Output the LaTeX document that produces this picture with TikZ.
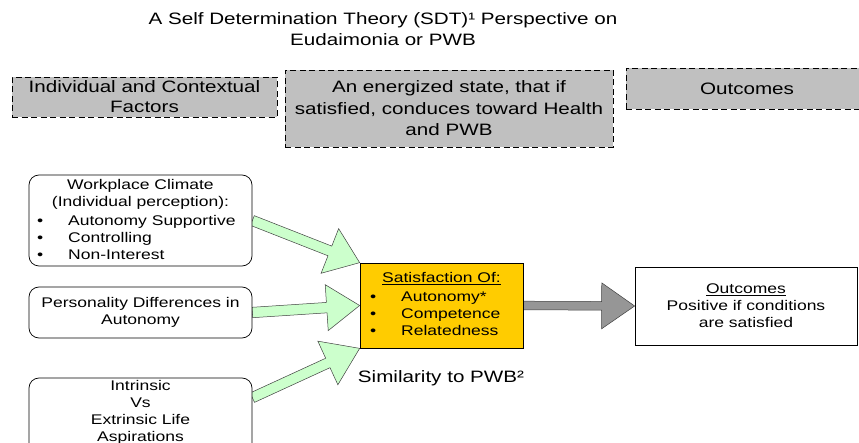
\documentclass[tikz,border=0pt]{standalone}
\usepackage{fontspec}
\setmainfont{Liberation Sans}[FakeStretch=1.25]
\usetikzlibrary{calc,backgrounds}

\definecolor{hdrgray}{HTML}{C0C0C0}
\definecolor{satyellow}{HTML}{FFCC00}
\definecolor{flowgreen}{HTML}{CCFFCC}
\definecolor{flowgray}{HTML}{969696}
\definecolor{edgegray}{HTML}{404040}

\newcommand\bigtext{\fontsize{16.5}{21.5}\selectfont}
\newcommand\smalltext{\fontsize{14}{17}\selectfont}
\newcommand\bitem[2][31pt]{\makebox[#1][l]{\textbullet}#2}

% block arrow: style, tail, tip, shaft half width, head half width, head length
\newcommand\blockarrow[6]{%
  \coordinate (ba-t) at #2;
  \coordinate (ba-p) at #3;
  \coordinate (ba-h) at ($(ba-p)!#6!(ba-t)$);
  \draw[#1] ($(ba-t)!#4!90:(ba-p)$) -- ($(ba-h)!#4!-90:(ba-t)$)
    -- ($(ba-h)!#5!-90:(ba-t)$) -- (ba-p) -- ($(ba-h)!#5!90:(ba-t)$)
    -- ($(ba-h)!#4!90:(ba-t)$) -- ($(ba-t)!#4!-90:(ba-p)$) -- cycle;
}

\tikzset{
  hdr/.style={draw=black, line width=0.9pt, dash pattern=on 6pt off 3.5pt,
    fill=hdrgray, inner sep=0pt, align=center, font=\bigtext},
  factor/.style={draw=black, line width=0.7pt, rounded corners=10pt,
    fill=white, inner sep=0pt, font=\smalltext, align=center},
  plain/.style={inner sep=0pt, font=\smalltext},
  greenflow/.style={fill=flowgreen, draw=edgegray, line width=0.5pt, line join=miter},
  grayflow/.style={fill=flowgray, draw=edgegray, line width=0.5pt, line join=miter},
}

\begin{document}
\begin{tikzpicture}[x=1pt, y=-1pt]
\useasboundingbox (0,0) rectangle (859,443);

% title
\node[inner sep=0pt, align=center, font=\bigtext] (title) at (383,29)
  {A Self Determination Theory (SDT)¹ Perspective on\\Eudaimonia or PWB};

% column headers
\node[hdr, minimum width=265pt, minimum height=40pt] (hfac) at (144.5,97)
  {Individual and Contextual\\[-1.5pt]Factors};
\node[hdr, minimum width=328pt, minimum height=77pt] (hstate) at (449,108.5)
  {An energized state, that if\\satisfied, conduces toward Health\\and PWB};
\node[hdr, minimum width=242pt, minimum height=41pt] (hout) at (747,88.5)
  {Outcomes};

% factor boxes
\node[factor, minimum width=223pt, minimum height=91pt] (climate) at (140.5,220.5) {};
\node[plain, anchor=north, align=center] (climateT) at ($(climate.north)+(0,5)$)
  {Workplace Climate\\(Individual perception):};
\node[plain, anchor=north west, align=left] (climateL) at (37,215)
  {\bitem{Autonomy Supportive}\\\bitem{Controlling}\\\bitem{Non-Interest}};

\node[factor, minimum width=223pt, minimum height=51pt] (person) at (140.5,312.5)
  {Personality Differences in\\Autonomy};

\node[factor, minimum width=223pt, minimum height=84pt] (aspire) at (140.5,420) {};
\node[plain, anchor=north, align=center] (aspireT) at ($(aspire.north)+(0,3)$)
  {Intrinsic\\Vs\\Extrinsic Life\\Aspirations};

% needs satisfaction
\node[draw=black, line width=0.7pt, fill=satyellow, minimum width=163pt,
  minimum height=85pt, inner sep=0pt] (needs) at (441.5,305.5) {};
\node[plain, anchor=north] (needsT) at ($(needs.north)+(0,10)$)
  {\underline{Satisfaction Of:}};
\node[plain, anchor=north west, align=left] (needsL) at (370,292)
  {\bitem{Autonomy*}\\\bitem{Competence}\\\bitem{Relatedness}};
\node[inner sep=0pt, font=\bigtext] (simil) at (441,378)
  {Similarity to PWB²};

% outcomes
\node[draw=black, line width=0.7pt, fill=white, minimum width=222pt,
  minimum height=78pt, inner sep=0pt, align=center, font=\smalltext] (outc) at (746,306)
  {\underline{Outcomes}\\Positive if conditions\\are satisfied};

% flow arrows
\begin{scope}[on background layer]
  \blockarrow{greenflow}{(climate.east)}{(needs.north west)}{5.2pt}{24pt}{32pt}
  \blockarrow{greenflow}{(person.east)}{(needs.west)}{5.2pt}{23pt}{33pt}
  \blockarrow{greenflow}{($(aspire.north east)+(0,20)$)}{(needs.south west)}{5.2pt}{24pt}{35pt}
  \blockarrow{grayflow}{(needs.east)}{(outc.west)}{4.3pt}{23pt}{33pt}
\end{scope}
\end{tikzpicture}
\end{document}
